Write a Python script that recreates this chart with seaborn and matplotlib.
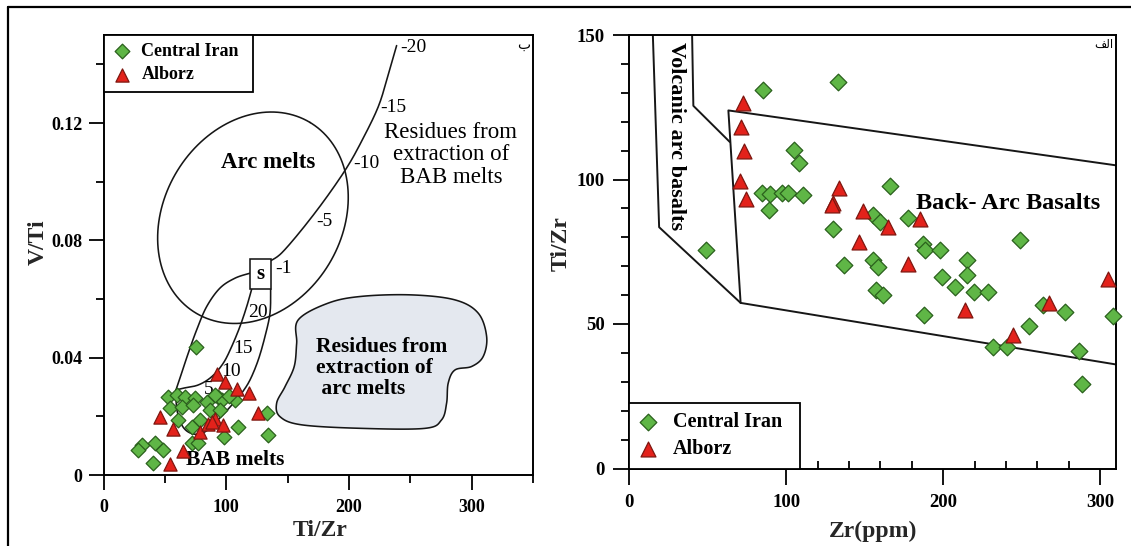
import numpy as np
import pandas as pd
import matplotlib
matplotlib.use("Agg")
import matplotlib.pyplot as plt
import seaborn as sns
from matplotlib.ticker import FixedLocator, MultipleLocator
from matplotlib.patches import Rectangle, Polygon
from matplotlib.lines import Line2D

# ---------------- data: left panel (Ti/Zr vs V/Ti) ----------------
left_ci_tizr = [75.3, 52.2, 59.6, 66.4, 74.5, 84.0, 93.5, 96.2, 107.0, 54.1, 63.7, 73.1,
                86.7, 94.8, 60.9, 71.8, 78.6, 98.3, 109.7, 71.8, 77.2, 31.1, 41.9, 48.7,
                28.3, 40.5, 132.9, 134.2, 90.8, 102.0]
left_ci_vti = [0.0438, 0.0267, 0.0273, 0.0267, 0.0262, 0.0250, 0.0267, 0.0256, 0.0256, 0.0228,
               0.0233, 0.0239, 0.0222, 0.0222, 0.0188, 0.0165, 0.0188, 0.0129, 0.0165, 0.0108,
               0.0108, 0.0102, 0.0108, 0.0085, 0.0085, 0.0040, 0.0211, 0.0137, 0.0273, 0.0270]
left_al_tizr = [92.2, 98.9, 109.0, 118.7, 46.0, 56.8, 65.0, 54.5, 126.0, 78.6, 85.3, 91.0, 97.5, 88.0]
left_al_vti = [0.0345, 0.0318, 0.0294, 0.0281, 0.0198, 0.0157, 0.0081, 0.0037, 0.0211, 0.0148,
               0.0174, 0.0190, 0.0171, 0.0180]

# ---------------- data: right panel (Zr vs Ti/Zr) ----------------
right_ci_zr = [85.0, 133.1, 104.9, 108.1, 84.3, 89.6, 97.0, 101.3, 110.4, 89.2, 48.7, 129.9,
               136.7, 155.0, 158.6, 157.1, 161.8, 166.0, 155.4, 159.7, 177.7, 248.8, 187.2, 188.3,
               197.9, 215.2, 214.9, 198.9, 207.4, 219.5, 228.6, 187.7, 263.6, 277.5, 254.7, 231.8,
               240.3, 286.6, 288.1, 307.8]
right_ci_tizr = [131.1, 133.6, 110.3, 105.8, 95.5, 95.1, 95.5, 95.5, 94.6, 89.4, 75.5, 82.8,
                 70.3, 72.1, 69.8, 61.7, 60.0, 97.6, 87.6, 85.3, 86.8, 79.0, 77.8, 75.5,
                 75.5, 72.3, 66.9, 66.3, 62.8, 61.1, 61.1, 53.1, 56.5, 54.0, 49.3, 41.9,
                 42.1, 40.7, 29.4, 52.7]
right_al_zr = [72.6, 70.9, 73.0, 70.5, 74.3, 133.5, 129.9, 129.1, 149.0, 146.5, 185.1, 164.9,
               177.7, 213.8, 244.5, 267.3, 305.0]
right_al_tizr = [126.4, 118.2, 109.9, 99.5, 93.4, 97.1, 91.7, 91.1, 89.1, 78.4, 86.5, 83.6,
                 70.7, 55.0, 46.1, 57.1, 65.7]

group_names = ["Central Iran", "Alborz"]
left_xticks = [0, 100, 200, 300]
left_xticklabels = ["0", "100", "200", "300"]
left_yticks = [0, 0.04, 0.08, 0.12]
left_yticklabels = ["0", "0.04", "0.08", "0.12"]
right_xticks = [0, 100, 200, 300]
right_xticklabels = ["0", "100", "200", "300"]
right_yticks = [0, 50, 100, 150]
right_yticklabels = ["0", "50", "100", "150"]

# ---------------- field boundaries (diagram outlines) ----------------
residue_curve = [(238.7, 0.1464), (231.9, 0.1365), (223.7, 0.1255), (210.2, 0.1138), (198.0, 0.1047),
                 (180.3, 0.0939), (161.4, 0.0836), (145.1, 0.0757), (136.4, 0.0731)]
bab_left = [(119.3, 0.0688), (107.1, 0.0671), (94.8, 0.0637), (84.0, 0.0574), (75.9, 0.0495),
            (69.0, 0.0415), (63.1, 0.0341), (59.0, 0.0290)]
bab_mid = [(59.0, 0.0290), (65.0, 0.0296), (77.2, 0.0307), (88.1, 0.0335), (97.5, 0.0381),
           (104.4, 0.0438), (111.1, 0.0506), (116.6, 0.0574), (120.7, 0.0634)]
bab_right = [(136.1, 0.0634), (135.6, 0.0552), (131.5, 0.0472), (126.0, 0.0392), (119.3, 0.0324),
             (112.5, 0.0279), (104.6, 0.0239), (93.2, 0.0188), (82.6, 0.0147), (72.9, 0.0140),
             (64.7, 0.0164), (59.8, 0.0222), (59.0, 0.0290)]
arc_residue_blob = [(158.6, 0.0529), (183.0, 0.0586), (210.2, 0.0609), (250.9, 0.0614), (286.2, 0.0597),
                    (305.1, 0.0552), (312.0, 0.0472), (309.2, 0.0404), (299.8, 0.0370), (286.2, 0.0358),
                    (280.7, 0.0313), (279.4, 0.0245), (275.3, 0.0188), (261.7, 0.0159), (210.2, 0.0159),
                    (161.4, 0.0171), (143.7, 0.0199), (141.0, 0.0245), (147.8, 0.0301), (155.3, 0.0370),
                    (157.3, 0.0449)]
s_box = (119.3, 0.0634, 136.1, 0.0736)
arc_center = (121.7, 0.0877)
arc_a_px, arc_b_px, arc_angle = 111.0, 89.0, 59.0

vab_left = [(15.0, 150.0), (19.0, 83.5), (70.9, 57.3)]
vab_right = [(40.0, 150.0), (40.8, 125.5), (64.0, 113.0)]
bab_field = [(310.0, 104.9), (63.1, 123.9), (70.9, 57.3), (310.0, 36.0)]


def catmull_rom(points, closed=False, n=16):
    p = np.asarray(points, float)
    if closed:
        p = np.vstack([p[-1], p, p[0], p[1]])
    else:
        p = np.vstack([p[0], p, p[-1]])
    out = []
    t = np.linspace(0, 1, n, endpoint=False)[:, None]
    for i in range(1, len(p) - 2):
        p0, p1, p2, p3 = p[i - 1], p[i], p[i + 1], p[i + 2]
        seg = 0.5 * ((2 * p1) + (-p0 + p2) * t + (2 * p0 - 5 * p1 + 4 * p2 - p3) * t ** 2
                     + (-p0 + 3 * p1 - 3 * p2 + p3) * t ** 3)
        out.append(seg)
    out.append(p[-2][None])
    return np.vstack(out)


sns.set_style("ticks")
plt.rcParams["font.family"] = ["Liberation Serif", "DejaVu Sans"]
plt.rcParams["text.color"] = "black"
plt.rcParams["axes.edgecolor"] = "black"
plt.rcParams["xtick.color"] = "black"
plt.rcParams["ytick.color"] = "black"

W, H = 1131, 546
fig = plt.figure(figsize=(W / 100, H / 100), dpi=100)
fig.patch.set_facecolor("white")

ax1 = fig.add_axes([103.5 / W, 1 - 475 / H, 429.8 / W, 440 / H])
ax2 = fig.add_axes([629.3 / W, 1 - 468.5 / H, 486.7 / W, 433.5 / H])

green_fill, green_edge = "#5fb646", "#2a601c"
red_fill, red_edge = "#e3221b", "#7e1710"
line_c = "#161616"

# ======================= LEFT PANEL =======================
dfl_ci = pd.DataFrame({"TiZr": left_ci_tizr, "VTi": left_ci_vti, "group": group_names[0]})
dfl_al = pd.DataFrame({"TiZr": left_al_tizr, "VTi": left_al_vti, "group": group_names[1]})

xs_px = 100 / 122.83
ys_px = 0.02 / 58.6
tt = np.linspace(0, 2 * np.pi, 300)
th = np.deg2rad(arc_angle)
ex = arc_a_px * np.cos(tt) * np.cos(th) - arc_b_px * np.sin(tt) * np.sin(th)
ey = arc_a_px * np.cos(tt) * np.sin(th) + arc_b_px * np.sin(tt) * np.cos(th)
ax1.plot(arc_center[0] + ex * xs_px, arc_center[1] + ey * ys_px, color=line_c, lw=1.15, zorder=2)

blob = catmull_rom(arc_residue_blob, closed=True)
ax1.add_patch(Polygon(blob, closed=True, facecolor="#e4e8ef", edgecolor=line_c, lw=1.15, zorder=1.5))
for curve in (residue_curve, bab_left, bab_mid, bab_right):
    c = catmull_rom(curve)
    ax1.plot(c[:, 0], c[:, 1], color=line_c, lw=1.15, zorder=2)
ax1.add_patch(Rectangle((s_box[0], s_box[1]), s_box[2] - s_box[0], s_box[3] - s_box[1],
                        facecolor="white", edgecolor=line_c, lw=1.15, zorder=3))
ax1.text((s_box[0] + s_box[2]) / 2, (s_box[1] + s_box[3]) / 2, "s", ha="center", va="center",
         fontsize=15, fontweight="bold", zorder=4)

sns.scatterplot(data=dfl_ci, x="TiZr", y="VTi", ax=ax1, marker="D", s=56, color=green_fill,
                edgecolor=green_edge, linewidth=0.9, label=group_names[0], zorder=5)
sns.scatterplot(data=dfl_al, x="TiZr", y="VTi", ax=ax1, marker="^", s=90, color=red_fill,
                edgecolor=red_edge, linewidth=0.9, label=group_names[1], zorder=6)

num_labels = [("-20", 241.4, 0.1457), ("-15", 225.1, 0.1252), ("-10", 203.4, 0.1061),
              ("-5", 173.6, 0.0865), ("-1", 139.6, 0.0705), ("20", 117.4, 0.0554),
              ("15", 105.7, 0.0432), ("10", 95.7, 0.0353), ("5", 82.0, 0.0292)]
for txt, x, y in num_labels:
    ax1.text(x, y, txt, ha="left", va="center", fontsize=14, zorder=4)

ax1.text(133.7, 0.1064, "Arc melts", ha="center", va="center", fontsize=16.5, fontweight="bold", zorder=4)
ax1.text(282.9, 0.1092, "Residues from\nextraction of\nBAB melts", ha="center", va="center",
         fontsize=16.5, linespacing=1.1, zorder=4)
ax1.text(172.7, 0.0364, "Residues from\nextraction of\n arc melts", ha="left", va="center",
         fontsize=15.5, fontweight="bold", linespacing=1.05, zorder=4)
ax1.text(107.1, 0.0051, "BAB melts", ha="center", va="center", fontsize=15.5, fontweight="bold", zorder=4)
ax1.text(341.8, 0.1468, "ب", ha="center", va="center", fontsize=10, family=["DejaVu Sans"], zorder=4)

ax1.set_xlim(0, 350)
ax1.set_ylim(0, 0.15)
ax1.xaxis.set_major_locator(FixedLocator(left_xticks))
ax1.set_xticklabels(left_xticklabels)
ax1.xaxis.set_minor_locator(MultipleLocator(50))
ax1.yaxis.set_major_locator(FixedLocator(left_yticks))
ax1.set_yticklabels(left_yticklabels)
ax1.yaxis.set_minor_locator(MultipleLocator(0.02))
ax1.tick_params(which="major", direction="out", length=11, width=1.3, labelsize=13, pad=4)
ax1.tick_params(which="minor", direction="out", length=5.5, width=1.3)
ax1.tick_params(axis="x", which="major", pad=6)
for lab in ax1.get_xticklabels() + ax1.get_yticklabels():
    lab.set_fontweight("bold")
for sp in ax1.spines.values():
    sp.set_linewidth(1.4)
    sp.set_visible(True)

ax1.set_xlabel("Ti/Zr", fontsize=17, fontweight="bold", va="center")
ax1.xaxis.set_label_coords(0.505, -0.127)
ax1.set_ylabel("V/Ti", fontsize=17, fontweight="bold", va="center")
ax1.yaxis.set_label_coords(-0.152, 0.53)

leg1 = ax1.legend(loc="upper left", bbox_to_anchor=(0, 1, 0.3485, 0), mode="expand", borderaxespad=0,
                  frameon=True, fancybox=False, edgecolor="black", framealpha=1,
                  prop={"family": "Liberation Serif", "weight": "bold", "size": 13},
                  handlelength=1.1, handletextpad=0.55, borderpad=0.45, labelspacing=0.35)
leg1.get_frame().set_linewidth(1.3)
leg1.set_zorder(10)

# ======================= RIGHT PANEL =======================
dfr_ci = pd.DataFrame({"Zr": right_ci_zr, "TiZr": right_ci_tizr, "group": group_names[0]})
dfr_al = pd.DataFrame({"Zr": right_al_zr, "TiZr": right_al_tizr, "group": group_names[1]})

for poly in (vab_left, vab_right):
    pp = np.asarray(poly)
    ax2.plot(pp[:, 0], pp[:, 1], color=line_c, lw=1.4, zorder=2)
pb = np.asarray(bab_field)
ax2.plot(pb[:, 0], pb[:, 1], color=line_c, lw=1.4, zorder=2)

sns.scatterplot(data=dfr_ci, x="Zr", y="TiZr", ax=ax2, marker="D", s=72, color=green_fill,
                edgecolor=green_edge, linewidth=0.9, label=group_names[0], zorder=5, clip_on=False)
sns.scatterplot(data=dfr_al, x="Zr", y="TiZr", ax=ax2, marker="^", s=115, color=red_fill,
                edgecolor=red_edge, linewidth=0.9, label=group_names[1], zorder=6, clip_on=False)

ax2.text(29.8, 115.2, "Volcanic arc basalts", rotation=-90, ha="center", va="center",
         fontsize=16, fontweight="bold", zorder=4)
ax2.text(241.4, 91.7, "Back- Arc Basalts", ha="center", va="center", fontsize=17.5,
         fontweight="bold", zorder=4)
ax2.text(302.3, 146.7, "\ufed2\ufedf\ufe8d", ha="center", va="center", fontsize=8.5,
         family=["DejaVu Sans"], zorder=4)

ax2.set_xlim(0, 310)
ax2.set_ylim(0, 150)
ax2.xaxis.set_major_locator(FixedLocator(right_xticks))
ax2.set_xticklabels(right_xticklabels)
ax2.xaxis.set_minor_locator(MultipleLocator(20))
ax2.yaxis.set_major_locator(FixedLocator(right_yticks))
ax2.set_yticklabels(right_yticklabels)
ax2.yaxis.set_minor_locator(MultipleLocator(10))
ax2.tick_params(which="major", direction="out", length=11.5, width=1.3, labelsize=13.5, pad=6)
ax2.tick_params(axis="y", which="minor", direction="out", length=5.5, width=1.3)
ax2.tick_params(axis="x", which="minor", direction="in", length=6, width=1.3)
ax2.tick_params(axis="x", which="major", pad=7)
for lab in ax2.get_xticklabels() + ax2.get_yticklabels():
    lab.set_fontweight("bold")
for sp in ax2.spines.values():
    sp.set_linewidth(1.4)
    sp.set_visible(True)

ax2.set_xlabel("Zr(ppm)", fontsize=17, fontweight="bold", va="center")
ax2.xaxis.set_label_coords(0.50, -0.144)
ax2.set_ylabel("Ti/Zr", fontsize=17, fontweight="bold", va="center")
ax2.yaxis.set_label_coords(-0.14, 0.518)

leg2 = ax2.legend(loc="lower left", bbox_to_anchor=(0, 0, 0.351, 0), mode="expand", borderaxespad=0,
                  frameon=True, fancybox=False, edgecolor="black", framealpha=1,
                  prop={"family": "Liberation Serif", "weight": "bold", "size": 14.5},
                  handlelength=1.0, handletextpad=0.7, borderpad=0.45, labelspacing=0.35)
leg2.get_frame().set_linewidth(1.3)
leg2.set_zorder(10)

# outer figure frame (top and left edges)
fig.add_artist(Line2D([8 / W, 8 / W], [0, 1 - 7 / H], transform=fig.transFigure, color="black", lw=1.6))
fig.add_artist(Line2D([8 / W, 1], [1 - 7 / H, 1 - 7 / H], transform=fig.transFigure, color="black", lw=1.6))

fig.savefig("out.png", dpi=100, facecolor="white")
